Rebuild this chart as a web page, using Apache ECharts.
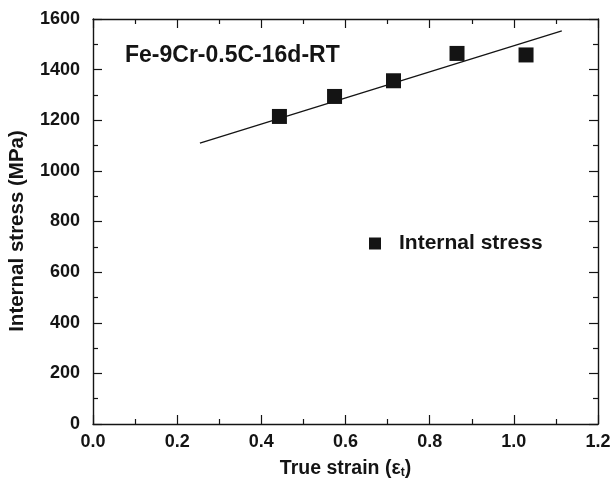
<!DOCTYPE html>
<html><head><meta charset="utf-8">
<script src="https://cdn.jsdelivr.net/npm/echarts@6/dist/echarts.min.js"></script>
<style>html,body{margin:0;padding:0;background:#fff}#c{width:612px;height:479px}</style>
</head><body><div id="c"></div>
<script>
const strainX = [0.443, 0.574, 0.714, 0.865, 1.029];
const stressY = [1215, 1294, 1356, 1464, 1458];
const fitX = [0.254, 1.114];
const fitY = [1110, 1553];
const seriesName = 'Internal stress';
const titleText = 'Fe-9Cr-0.5C-16d-RT';
const yTitle = 'Internal stress (MPa)';

const FONT = '"Liberation Sans", Arial, sans-serif';
const INK = '#141414';
const chart = echarts.init(document.getElementById('c'));
const axisCommon = {
  axisLine: {show: true, onZero: false, lineStyle: {color: INK, width: 1.4}},
  axisTick: {show: true, inside: true, length: 9, lineStyle: {color: INK, width: 1.2}},
  minorTick: {show: true, splitNumber: 2, length: 5, lineStyle: {color: INK, width: 1.2}},
  splitLine: {show: false}
};
const labelStyle = {fontFamily: FONT, fontWeight: 'bold', fontSize: 18, color: INK};
chart.setOption({
  animation: false,
  backgroundColor: '#fff',
  grid: {left: 93, right: 14, top: 19, bottom: 55, containLabel: false, outerBoundsMode: 'none'},
  title: {text: titleText, left: 125, top: 44, padding: 0,
    textStyle: {fontFamily: FONT, fontWeight: 'bold', fontSize: 23, color: INK}},
  legend: {data: [{name: seriesName, icon: 'rect'}], left: 369, top: 233, padding: 0,
    itemWidth: 12, itemHeight: 12, itemGap: 10,
    itemStyle: {color: INK, opacity: 1},
    textStyle: {fontFamily: FONT, fontWeight: 'bold', fontSize: 21, color: INK, padding: [0,0,0,13]}},
  xAxis: [
    Object.assign({type: 'value', min: 0, max: 1.2, interval: 0.2, position: 'bottom',
      name: '{a|True strain (ε}{s|t}{a|)}', nameLocation: 'middle', nameGap: 35,
      nameTextStyle: {rich: {
        a: {fontFamily: FONT, fontWeight: 'bold', fontSize: 19.5, color: INK},
        s: {fontFamily: FONT, fontWeight: 'bold', fontSize: 12, color: INK, verticalAlign: 'bottom', padding: [8,0,0,0]}
      }},
      axisLabel: Object.assign({margin: 9, formatter: v => v.toFixed(1)}, labelStyle)}, axisCommon),
    Object.assign({type: 'value', min: 0, max: 1.2, interval: 0.2, position: 'top',
      axisLabel: {show: false}}, axisCommon)
  ],
  yAxis: [
    Object.assign({type: 'value', min: 0, max: 1600, interval: 200, position: 'left',
      name: yTitle, nameLocation: 'middle', nameGap: 65,
      nameTextStyle: {fontFamily: FONT, fontWeight: 'bold', fontSize: 20.5, color: INK, padding: [0, 19, 0, 0]},
      axisLabel: Object.assign({margin: 13, formatter: v => String(v)}, labelStyle)}, axisCommon),
    Object.assign({type: 'value', min: 0, max: 1600, interval: 200, position: 'right',
      axisLabel: {show: false}}, axisCommon)
  ],
  series: [
    {name: 'fit', type: 'line', data: fitX.map((x, i) => [x, fitY[i]]), symbol: 'none',
      lineStyle: {color: INK, width: 1.3}, z: 2, silent: true},
    {name: seriesName, type: 'scatter', data: strainX.map((x, i) => [x, stressY[i]]),
      symbol: 'rect', symbolSize: 15, itemStyle: {color: INK, opacity: 1}, z: 3}
  ]
});
</script></body></html>
